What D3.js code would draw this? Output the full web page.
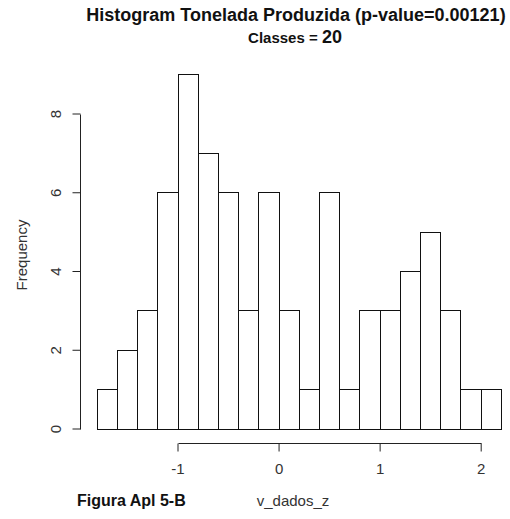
<!DOCTYPE html>
<html>
<head>
<meta charset="utf-8">
<script src="https://cdn.jsdelivr.net/npm/d3@7"></script>
<style>
  html, body { margin: 0; padding: 0; background: #fff; }
  svg { display: block; font-family: "Liberation Sans", Arial, sans-serif; }
</style>
</head>
<body>
<svg id="chart" width="510" height="519"></svg>
<script>
// ---- data ----
const binStarts = [-1.8, -1.6, -1.4, -1.2, -1.0, -0.8, -0.6, -0.4, -0.2, 0.0,
                   0.2, 0.4, 0.6, 0.8, 1.0, 1.2, 1.4, 1.6, 1.8, 2.0];
const binWidth = 0.2;
const counts = [1, 2, 3, 6, 9, 7, 6, 3, 6, 3, 1, 6, 1, 3, 3, 4, 5, 3, 1, 1];
const xTicks = [-1, 0, 1, 2];
const yTicks = [0, 2, 4, 6, 8];
const titleMain = "Histogram Tonelada Produzida (p-value=0.00121)";
const subPrefix = "Classes = ";
const subValue = "20";
const xLabel = "v_dados_z";
const yLabel = "Frequency";
const figLabel = "Figura Apl 5-B";

// ---- scales ----
const svg = d3.select("#chart");
const x = d3.scaleLinear().domain([-1, 2]).range([177.5, 480.7]);
const y = d3.scaleLinear().domain([0, 8]).range([428.5, 113.5]);

// ---- bars ----
svg.append("g")
  .attr("shape-rendering", "crispEdges")
  .selectAll("rect")
  .data(binStarts.map((s, i) => ({ x0: s, x1: s + binWidth, n: counts[i] })))
  .join("rect")
  .attr("x", d => Math.round(x(d.x0)) + 0.5)
  .attr("y", d => Math.round(y(d.n)) + 0.5)
  .attr("width", d => Math.round(x(d.x1)) - Math.round(x(d.x0)))
  .attr("height", d => Math.round(y(0)) - Math.round(y(d.n)))
  .attr("fill", "#fff")
  .attr("stroke", "#111")
  .attr("stroke-width", 1);

// ---- x axis (R style) ----
const xAxisY = 443;
const xAxis = d3.axisBottom(x).tickValues(xTicks).tickSize(8).tickPadding(12)
  .tickFormat(d => d < 0 ? "-" + Math.abs(d) : String(d));
const gx = svg.append("g")
  .attr("transform", `translate(0,${xAxisY + 0.5})`)
  .call(xAxis);
gx.select(".domain").attr("d", `M${Math.round(x(-1)) + 0.5},0H${Math.round(x(2)) + 0.5}`)
  .attr("stroke", "#222");
gx.selectAll(".tick line").attr("stroke", "#222");
gx.selectAll(".tick text")
  .attr("font-size", 15).attr("fill", "#333")
  .attr("font-family", "Liberation Sans, Arial, sans-serif");

// ---- y axis (R style, rotated labels) ----
const yAxisX = 80;
const yAxis = d3.axisLeft(y).tickValues(yTicks).tickSize(8).tickFormat(d3.format("d"));
const gy = svg.append("g")
  .attr("transform", `translate(${yAxisX + 0.5},0)`)
  .call(yAxis);
gy.select(".domain").attr("d", `M0,${Math.round(y(0)) + 0.5}V${Math.round(y(8)) + 0.5}`)
  .attr("stroke", "#222");
gy.selectAll(".tick line").attr("stroke", "#222");
gy.selectAll(".tick text")
  .attr("font-size", 15).attr("fill", "#333")
  .attr("font-family", "Liberation Sans, Arial, sans-serif")
  .attr("x", null).attr("dy", null)
  .attr("text-anchor", "middle")
  .attr("transform", "translate(-20,0) rotate(-90)");

// ---- titles ----
svg.append("text")
  .attr("x", 296).attr("y", 21)
  .attr("text-anchor", "middle")
  .attr("font-size", 18).attr("font-weight", "bold").attr("fill", "#111")
  .text(titleMain);

const sub = svg.append("text")
  .attr("x", 295).attr("y", 43)
  .attr("text-anchor", "middle")
  .attr("fill", "#111").attr("font-weight", "bold");
sub.append("tspan").attr("font-size", 15).text(subPrefix);
sub.append("tspan").attr("font-size", 18).text(subValue);

svg.append("text")
  .attr("transform", "translate(27,255) rotate(-90)")
  .attr("text-anchor", "middle")
  .attr("font-size", 15).attr("fill", "#333")
  .text(yLabel);

svg.append("text")
  .attr("x", 293).attr("y", 506)
  .attr("text-anchor", "middle")
  .attr("font-size", 15).attr("fill", "#333")
  .text(xLabel);

svg.append("text")
  .attr("x", 77).attr("y", 506)
  .attr("font-size", 16).attr("font-weight", "bold").attr("fill", "#111")
  .text(figLabel);
</script>
</body>
</html>
